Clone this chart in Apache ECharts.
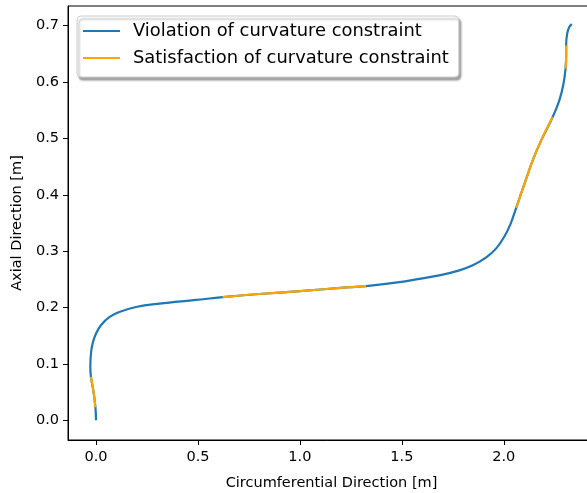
<!DOCTYPE html>
<html>
<head>
<meta charset="utf-8">
<script src="https://cdn.jsdelivr.net/npm/echarts@6/dist/echarts.min.js"></script>
<style>html,body{margin:0;padding:0;background:#fff}#c{width:587px;height:493px}</style>
</head>
<body>
<div id="c"></div>
<script>
// Curve points: [circumferential, axial]
const pathPts = [
  [0.000, 0.000], [-0.003, 0.023], [-0.012, 0.050], [-0.025, 0.077],
  [-0.028, 0.095], [-0.025, 0.118], [-0.017, 0.136], [0.000, 0.154],
  [0.025, 0.169], [0.065, 0.183], [0.114, 0.192], [0.196, 0.201],
  [0.311, 0.207], [0.490, 0.2135], [0.621, 0.2185], [0.800, 0.224],
  [1.000, 0.229], [1.200, 0.235], [1.325, 0.238], [1.488, 0.245],
  [1.586, 0.251], [1.684, 0.257], [1.782, 0.266], [1.848, 0.275],
  [1.914, 0.289], [1.963, 0.305], [2.003, 0.326], [2.034, 0.349],
  [2.061, 0.377], [2.102, 0.420], [2.142, 0.461], [2.184, 0.497],
  [2.240, 0.538], [2.273, 0.568], [2.293, 0.597], [2.303, 0.624],
  [2.306, 0.645], [2.306, 0.665], [2.311, 0.686], [2.322, 0.698],
  [2.334, 0.703]
];
// Index ranges (inclusive) of the curve that satisfy the constraint
const satisfiedRanges = [[1, 3], [14, 18], [28, 32], [35, 37]];
const xTicks = [0.0, 0.5, 1.0, 1.5, 2.0];
const yTicks = [0.0, 0.1, 0.2, 0.3, 0.4, 0.5, 0.6, 0.7];

const BLUE = '#1f77b4', ORANGE = '#ffa500';
const FONT = 'DejaVu Sans';
const nameViol = 'Violation of curvature constraint';
const nameSat = 'Satisfaction of curvature constraint';

const series = [{
  name: nameViol, type: 'line', data: pathPts, smooth: 0.4, showSymbol: false, symbol: 'none',
  lineStyle: {color: BLUE, width: 2.2}, itemStyle: {color: BLUE}, z: 2
}];
satisfiedRanges.forEach(r => {
  series.push({
    name: nameSat, type: 'line', data: pathPts.slice(r[0], r[1] + 1), smooth: 0.4,
    showSymbol: false, symbol: 'none',
    lineStyle: {color: ORANGE, width: 2.2}, itemStyle: {color: ORANGE}, z: 3
  });
});

const chart = echarts.init(document.getElementById('c'), null, {renderer: 'canvas'});
chart.setOption({
  animation: false,
  backgroundColor: '#fff',
  grid: {left: 68, top: 6, width: 527, height: 434, outerBoundsMode: 'none', containLabel: false,
    show: true, borderColor: '#000', borderWidth: 1, backgroundColor: 'transparent'},
  legend: {
    data: [nameViol, nameSat], orient: 'vertical', left: 77, top: 16,
    icon: 'rect', itemWidth: 37, itemHeight: 2, itemGap: 7,
    padding: [5, 10, 9, 6],
    backgroundColor: '#fff', borderColor: '#cccccc', borderWidth: 1, borderRadius: 4,
    shadowColor: 'rgba(0,0,0,0.35)', shadowOffsetX: 2, shadowOffsetY: 3, shadowBlur: 2,
    textStyle: {fontFamily: FONT, fontSize: 17.9, color: '#000', lineHeight: 20, padding: [0, 0, 0, 8]},
    selectedMode: false
  },
  xAxis: {
    type: 'value', min: -0.1375, max: 2.4475,
    name: 'Circumferential Direction [m]', nameLocation: 'middle', nameGap: 36,
    nameTextStyle: {fontFamily: FONT, fontSize: 14.5, color: '#000'},
    axisLine: {show: true, onZero: false, lineStyle: {color: '#000', width: 1}},
    axisTick: {show: true, length: 5, customValues: xTicks, lineStyle: {color: '#000'}},
    axisLabel: {customValues: xTicks, margin: 10, fontFamily: FONT, fontSize: 14.5, color: '#000',
      formatter: v => v.toFixed(1)},
    splitLine: {show: false}
  },
  yAxis: {
    type: 'value', min: -0.035, max: 0.735,
    name: 'Axial Direction [m]', nameLocation: 'middle', nameGap: 33, nameRotate: 90,
    nameTextStyle: {fontFamily: FONT, fontSize: 14.5, color: '#000'},
    axisLine: {show: true, onZero: false, lineStyle: {color: '#000', width: 1}},
    axisTick: {show: true, length: 5, customValues: yTicks, lineStyle: {color: '#000'}},
    axisLabel: {customValues: yTicks, margin: 9, fontFamily: FONT, fontSize: 14.5, color: '#000',
      formatter: v => v.toFixed(1)},
    splitLine: {show: false}
  },
  series: series
});
</script>
</body>
</html>
